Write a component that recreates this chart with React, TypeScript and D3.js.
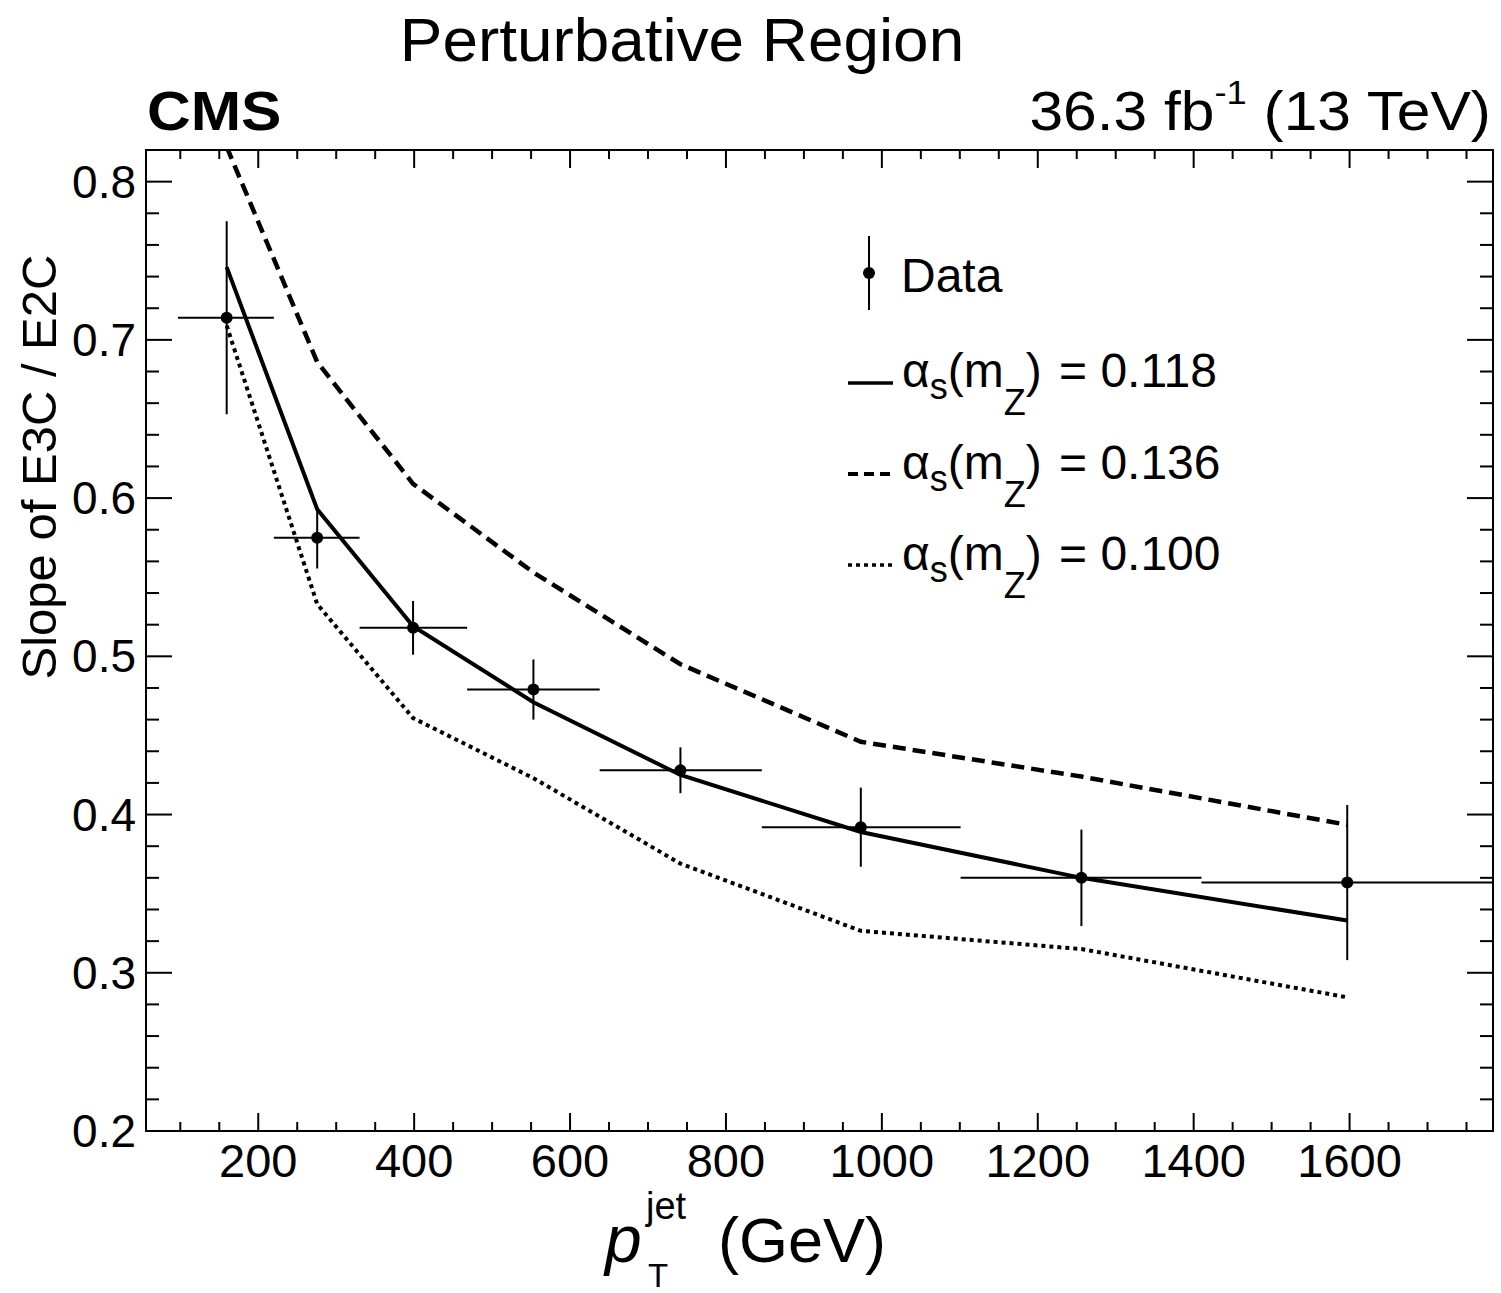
import React from "react";
import * as d3 from "d3";

// ---- data ----
const ptCenters = [159.5, 275.6, 398.6, 553, 741.6, 973, 1256, 1597];
const binEdges = [97, 220, 330, 468, 638, 846, 1101, 1410, 1784];
const dataValues = [0.714, 0.575, 0.518, 0.479, 0.428, 0.392, 0.36, 0.357];
const dataErrors = [0.061, 0.0195, 0.017, 0.019, 0.0145, 0.025, 0.0305, 0.049];
const theory0118 = [0.746, 0.593, 0.519, 0.471, 0.425, 0.389, 0.36, 0.333];
const theory0136 = [0.822, 0.686, 0.609, 0.553, 0.495, 0.446, 0.424, 0.3935];
const theory0100 = [0.709, 0.533, 0.461, 0.423, 0.369, 0.3265, 0.315, 0.2845];
const xTickValues = [200, 400, 600, 800, 1000, 1200, 1400, 1600];
const yTickValues = [0.2, 0.3, 0.4, 0.5, 0.6, 0.7, 0.8];
const legendLabels = ["0.118", "0.136", "0.100"];

const FONT = "'Liberation Sans', Arial, Helvetica, sans-serif";
const W = 1501;
const H = 1293;
const L = 146, R = 1493, T = 150, B = 1131;

export default function App() {
  const x = d3.scaleLinear().domain([56, 1784]).range([L, R]);
  const y = d3.scaleLinear().domain([0.2, 0.82]).range([B, T]);

  const xMinor = d3.range(100, 1784, 50).filter((v) => !xTickValues.includes(v));
  const yMinor = d3.range(0.2, 0.8201, 0.02).filter(
    (v) => !yTickValues.some((t) => Math.abs(t - v) < 1e-6)
  );

  const line = d3
    .line<number>()
    .x((_, i) => x(ptCenters[i]))
    .y((d) => y(d));

  const series = [
    { vals: theory0118, dash: undefined as string | undefined, legDash: undefined as string | undefined, w: 4 },
    { vals: theory0136, dash: "13 7", legDash: "10 6", w: 4.5 },
    { vals: theory0100, dash: "4 4", legDash: "4 4", w: 4 },
  ];

  const legendRowsY = [383, 474, 565];
  const legendBase = [387, 479, 570];

  return (
    <svg
      width={W}
      height={H}
      style={{ position: "absolute", left: 0, top: 0, background: "#fff" }}
      fontFamily={FONT}
    >
      <rect x={0} y={0} width={W} height={H} fill="#fff" />
      <defs>
        <clipPath id="plotclip">
          <rect x={L} y={T} width={R - L} height={B - T} />
        </clipPath>
      </defs>

      {/* titles */}
      <text x={682} y={61} fontSize={62} textAnchor="middle" transform="translate(682,0) scale(1.03,1) translate(-682,0)">
        Perturbative Region
      </text>
      <text transform="translate(147,130) scale(1.08,1)" fontSize={56} fontWeight="bold">
        CMS
      </text>
      <text transform="translate(1491,130) scale(1.1,1)" fontSize={55} textAnchor="end">
        36.3 fb
        <tspan fontSize={33} dy={-26}>-1</tspan>
        <tspan fontSize={55} dy={26}> (13 TeV)</tspan>
      </text>

      {/* theory curves */}
      <g clipPath="url(#plotclip)">
        {series.map((s, i) => (
          <path
            key={i}
            d={line(s.vals) || ""}
            fill="none"
            stroke="#000"
            strokeWidth={s.w}
            strokeDasharray={s.dash}
          />
        ))}
      </g>

      {/* data points */}
      <g stroke="#000" strokeWidth={2}>
        {dataValues.map((v, i) => (
          <g key={i}>
            <line
              x1={x(binEdges[i])}
              x2={x(binEdges[i + 1])}
              y1={y(v)}
              y2={y(v)}
            />
            <line
              x1={x(ptCenters[i])}
              x2={x(ptCenters[i])}
              y1={y(v + dataErrors[i])}
              y2={y(v - dataErrors[i])}
            />
            <circle cx={x(ptCenters[i])} cy={y(v)} r={6} fill="#000" stroke="none" />
          </g>
        ))}
      </g>

      {/* ticks */}
      <g stroke="#000" strokeWidth={2}>
        {xTickValues.map((v) => (
          <g key={"xM" + v}>
            <line x1={x(v)} x2={x(v)} y1={B} y2={B - 18} />
            <line x1={x(v)} x2={x(v)} y1={T} y2={T + 18} />
          </g>
        ))}
        {xMinor.map((v) => (
          <g key={"xm" + v}>
            <line x1={x(v)} x2={x(v)} y1={B} y2={B - 9} />
            <line x1={x(v)} x2={x(v)} y1={T} y2={T + 9} />
          </g>
        ))}
        {yTickValues.map((v) => (
          <g key={"yM" + v}>
            <line x1={L} x2={L + 26} y1={y(v)} y2={y(v)} />
            <line x1={R} x2={R - 26} y1={y(v)} y2={y(v)} />
          </g>
        ))}
        {yMinor.map((v) => (
          <g key={"ym" + v}>
            <line x1={L} x2={L + 13} y1={y(v)} y2={y(v)} />
            <line x1={R} x2={R - 13} y1={y(v)} y2={y(v)} />
          </g>
        ))}
        <rect x={L} y={T} width={R - L} height={B - T} fill="none" />
      </g>

      {/* tick labels */}
      {xTickValues.map((v) => (
        <text key={"xl" + v} x={x(v)} y={1177} fontSize={47} textAnchor="middle">
          {v}
        </text>
      ))}
      {yTickValues.map((v) => (
        <text
          key={"yl" + v}
          x={136}
          y={y(v) + 16}
          fontSize={46}
          textAnchor="end"
        >
          {v.toFixed(1)}
        </text>
      ))}

      {/* axis titles */}
      <text
        transform={`translate(56, 467) rotate(-90)`}
        fontSize={49}
        textAnchor="middle"
      >
        Slope of E3C / E2C
      </text>
      <text x={605} y={1262} fontSize={66} fontStyle="italic">
        p
      </text>
      <text x={646} y={1219} fontSize={38}>
        jet
      </text>
      <text x={648} y={1287} fontSize={33}>
        T
      </text>
      <text x={718} y={1262} fontSize={63}>
        (GeV)
      </text>

      {/* legend */}
      <g stroke="#000">
        <line x1={869} x2={869} y1={236} y2={310} strokeWidth={2} />
        <circle cx={869} cy={273} r={6} fill="#000" stroke="none" />
      </g>
      <text x={901} y={292} fontSize={48}>
        Data
      </text>
      {series.map((s, i) => (
        <g key={"leg" + i}>
          <line
            x1={848}
            x2={893}
            y1={legendRowsY[i]}
            y2={legendRowsY[i]}
            stroke="#000"
            strokeWidth={s.w - 0.5}
            strokeDasharray={s.legDash}
          />
          <text x={902} y={legendBase[i]} fontSize={48}>
            α
            <tspan fontSize={36} dy={12}>s</tspan>
            <tspan fontSize={48} dy={-12}>(m</tspan>
            <tspan fontSize={36} dy={28}>Z</tspan>
            <tspan fontSize={48} dy={-28}>)</tspan>
          </text>
          <text x={1059} y={legendBase[i]} fontSize={48}>
            = {legendLabels[i]}
          </text>
        </g>
      ))}
    </svg>
  );
}
